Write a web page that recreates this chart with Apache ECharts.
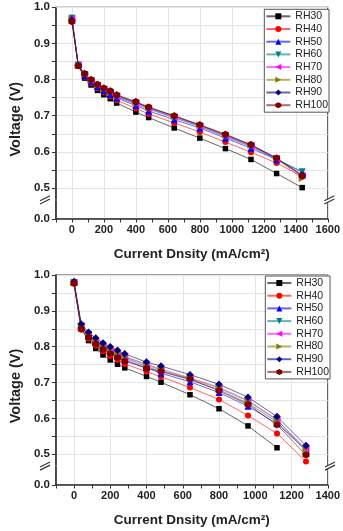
<!DOCTYPE html>
<html>
<head>
<meta charset="utf-8">
<script src="https://cdn.jsdelivr.net/npm/echarts@6/dist/echarts.min.js"></script>
<style>
  html, body { margin: 0; padding: 0; background: #fff; }
  #chart { width: 343px; height: 531px; }
</style>
</head>
<body>
<div id="chart"></div>
<script>
// legend names, same in both panels
const names = ['RH30', 'RH40', 'RH50', 'RH60', 'RH70', 'RH80', 'RH90', 'RH100']

// upper panel: current density points (mA/cm2)
const topX = [0, 40, 80, 120, 160, 200, 240, 280, 400, 480, 640, 800, 960, 1120, 1280, 1440]
const topRH30 = [0.968, 0.838, 0.804, 0.785, 0.770, 0.758, 0.747, 0.735, 0.710, 0.695, 0.666, 0.638, 0.609, 0.579, 0.540, 0.501]
const topRH40 = [0.967, 0.838, 0.808, 0.790, 0.776, 0.764, 0.753, 0.743, 0.720, 0.705, 0.680, 0.655, 0.627, 0.599, 0.569, 0.532]
const topRH50 = [0.972, 0.840, 0.811, 0.794, 0.780, 0.769, 0.759, 0.749, 0.728, 0.713, 0.689, 0.666, 0.638, 0.610, 0.578, 0.544]
const topRH60 = [0.970, 0.840, 0.813, 0.796, 0.783, 0.772, 0.762, 0.752, 0.732, 0.718, 0.694, 0.670, 0.642, 0.614, 0.580, 0.545]
const topRH70 = [0.969, 0.840, 0.814, 0.797, 0.784, 0.774, 0.764, 0.754, 0.734, 0.720, 0.696, 0.671, 0.644, 0.616, 0.581, 0.535]
const topRH80 = [0.966, 0.839, 0.815, 0.798, 0.785, 0.775, 0.765, 0.755, 0.736, 0.722, 0.698, 0.673, 0.646, 0.618, 0.582, 0.526]
const topRH90 = [0.965, 0.839, 0.815, 0.799, 0.786, 0.776, 0.766, 0.756, 0.737, 0.723, 0.699, 0.674, 0.647, 0.619, 0.582, 0.536]
const topRH100 = [0.960, 0.838, 0.817, 0.800, 0.787, 0.777, 0.769, 0.758, 0.739, 0.724, 0.700, 0.675, 0.649, 0.620, 0.583, 0.533]

// lower panel
const botX = [0, 40, 80, 120, 160, 200, 240, 280, 400, 480, 640, 800, 960, 1120, 1280]
const botRH30 = [0.977, 0.849, 0.817, 0.795, 0.777, 0.763, 0.751, 0.741, 0.717, 0.701, 0.666, 0.627, 0.579, 0.518]
const botRH40 = [0.976, 0.847, 0.822, 0.803, 0.787, 0.774, 0.763, 0.752, 0.730, 0.716, 0.686, 0.653, 0.608, 0.558, 0.480]
const botRH50 = [0.980, 0.855, 0.830, 0.811, 0.796, 0.784, 0.773, 0.763, 0.741, 0.726, 0.702, 0.672, 0.634, 0.585, 0.512]
const botRH60 = [0.979, 0.857, 0.832, 0.814, 0.799, 0.788, 0.777, 0.768, 0.745, 0.731, 0.707, 0.680, 0.642, 0.590, 0.510]
const botRH70 = [0.979, 0.858, 0.834, 0.816, 0.802, 0.791, 0.781, 0.771, 0.749, 0.735, 0.711, 0.684, 0.648, 0.595, 0.515]
const botRH80 = [0.978, 0.858, 0.835, 0.818, 0.804, 0.793, 0.783, 0.773, 0.751, 0.738, 0.713, 0.687, 0.650, 0.597, 0.508]
const botRH90 = [0.982, 0.863, 0.840, 0.824, 0.810, 0.800, 0.790, 0.780, 0.757, 0.746, 0.722, 0.695, 0.659, 0.605, 0.524]
const botRH100 = [0.976, 0.850, 0.826, 0.808, 0.793, 0.781, 0.770, 0.760, 0.740, 0.731, 0.710, 0.677, 0.639, 0.582, 0.498]

const topSets = [topRH30, topRH40, topRH50, topRH60, topRH70, topRH80, topRH90, topRH100]
const botSets = [botRH30, botRH40, botRH50, botRH60, botRH70, botRH80, botRH90, botRH100]

// voltage tick labels / ticks kept on the cut axis
const yLabels = [0, 0.5, 0.6, 0.7, 0.8, 0.9, 1.0]
const yTicks = [0, 0.5, 0.55, 0.6, 0.65, 0.7, 0.75, 0.8, 0.85, 0.9, 0.95, 1.0]

// Origin-like symbols / colours
const HEX = 'path://M0,-10L8.66,-5L8.66,5L0,10L-8.66,5L-8.66,-5Z'
const styles = [
  { symbol: 'rect', rotate: 0, size: 5.5, color: '#000000' },
  { symbol: 'circle', rotate: 0, size: 6, color: '#ff0000' },
  { symbol: 'triangle', rotate: 0, size: 7, color: '#0000ff' },
  { symbol: 'triangle', rotate: 180, size: 7, color: '#008080' },
  { symbol: 'triangle', rotate: 90, size: 7, color: '#ff00ff' },
  { symbol: 'triangle', rotate: -90, size: 7, color: '#808000' },
  { symbol: 'diamond', rotate: 0, size: 7.5, color: '#000080' },
  { symbol: HEX, rotate: 0, size: 7, color: '#800000' },
]

const FONT = '"Liberation Sans", Arial, sans-serif'
const AXIS_COLOR = '#333'
const GRID_COLOR = '#e4e4e4'

function makeSeries(gridIndex, xs, sets) {
  return sets.map((vals, i) => {
    const st = styles[i]
    return {
      name: names[i],
      type: 'line',
      xAxisIndex: gridIndex,
      yAxisIndex: gridIndex,
      data: vals.map((v, k) => [xs[k], v]),
      symbol: st.symbol,
      symbolRotate: st.rotate,
      symbolSize: st.size,
      itemStyle: { color: st.color },
      lineStyle: { color: st.color, width: 1, opacity: 0.6 },
      emphasis: { disabled: true },
      animation: false,
    }
  })
}

function makeXAxis(gridIndex, max) {
  return {
    type: 'value',
    gridIndex,
    min: -100,
    max,
    interval: 100,
    name: 'Current Dnsity (mA/cm²)',
    nameLocation: 'middle',
    nameGap: 28,
    nameTextStyle: { fontFamily: FONT, fontSize: 13.5, fontWeight: 'bold', color: '#222' },
    axisLine: { show: true, onZero: false, lineStyle: { color: AXIS_COLOR, width: 1.5 } },
    axisTick: { show: true, length: 3.5, lineStyle: { color: AXIS_COLOR } },
    axisLabel: {
      fontFamily: FONT,
      fontSize: 11,
      fontWeight: 'bold',
      color: '#222',
      margin: 5,
      formatter: (v) => (Math.round(v) % 200 === 0 ? String(Math.round(v)) : ''),
    },
    // only every other tick (0, 200, 400 ...) gets a grid line
    splitLine: { show: true, lineStyle: { color: ['rgba(0,0,0,0)', GRID_COLOR], width: 1 } },
  }
}

function makeYAxis(gridIndex) {
  return {
    type: 'value',
    gridIndex,
    min: 0,
    max: 1,
    interval: 0.1,
    breaks: [{ start: 0.05, end: 0.47, gap: '1%' }],
    breakArea: { show: false },
    breakLabelLayout: { moveOverlap: false },
    name: 'Voltage (V)',
    nameLocation: 'middle',
    nameGap: 30,
    nameTextStyle: { fontFamily: FONT, fontSize: 14.5, fontWeight: 'bold', color: '#222', padding: [0, 12, 0, 0] },
    axisLine: { show: true, onZero: false, lineStyle: { color: AXIS_COLOR, width: 1.5 } },
    axisTick: { show: true, length: 4, customValues: yTicks, lineStyle: { color: AXIS_COLOR } },
    axisLabel: {
      fontFamily: FONT,
      fontSize: 11.5,
      fontWeight: 'bold',
      color: '#222',
      margin: 6,
      customValues: yLabels,
      formatter: (v) => v.toFixed(1),
    },
    splitLine: { show: true, lineStyle: { color: GRID_COLOR, width: 1 } },
  }
}

function makeLegend(top, right) {
  return {
    top,
    right,
    orient: 'vertical',
    itemWidth: 24,
    itemHeight: 7.5,
    itemGap: 0.7,
    padding: [1, 1, 1, 1],
    borderColor: '#555',
    borderWidth: 1,
    backgroundColor: '#fff',
    textStyle: { fontFamily: FONT, fontSize: 10.5, color: '#222', lineHeight: 12 },
    data: names,
    selectedMode: false,
  }
}

const chart = echarts.init(document.getElementById('chart'), null, { renderer: 'canvas' })

const option = {
  animation: false,
  backgroundColor: '#fff',
  grid: [
    { left: 45, top: 7.3, width: 284.3, height: 211.7, show: true, borderColor: '#444', borderWidth: 1.2, backgroundColor: 'transparent' },
    { left: 45, top: 275, width: 285, height: 210, show: true, borderColor: '#444', borderWidth: 1.2, backgroundColor: 'transparent' },
  ],
  xAxis: [makeXAxis(0, 1600), makeXAxis(1, 1400)],
  yAxis: [makeYAxis(0), makeYAxis(1)],
  legend: [makeLegend(9.3, 14), makeLegend(276, 13)],
  series: [...makeSeries(0, topX, topSets), ...makeSeries(1, botX, botSets)],
}

chart.setOption(option)

// the "//" marks where the value axis is cut
function breakMark(x, y) {
  const w = 5, h = 2.5, d = 1.6
  const stroke = { stroke: AXIS_COLOR, lineWidth: 1.2 }
  return [
    {
      type: 'polygon',
      z: 100,
      shape: { points: [[x - w, y - d + h], [x + w, y - d - h], [x + w, y + d - h], [x - w, y + d + h]] },
      style: { fill: '#fff' },
    },
    { type: 'line', z: 101, shape: { x1: x - w, y1: y - d + h, x2: x + w, y2: y - d - h }, style: stroke },
    { type: 'line', z: 101, shape: { x1: x - w, y1: y + d + h, x2: x + w, y2: y + d - h }, style: stroke },
  ]
}

const marks = []
;[0, 1].forEach((g) => {
  const yA = chart.convertToPixel({ yAxisIndex: g }, 0.05)
  const yB = chart.convertToPixel({ yAxisIndex: g }, 0.47)
  const y = (yA + yB) / 2
  const rect = option.grid[g]
  marks.push(...breakMark(rect.left, y), ...breakMark(rect.left + rect.width, y))
})
chart.setOption({ graphic: marks })
</script>
</body>
</html>
